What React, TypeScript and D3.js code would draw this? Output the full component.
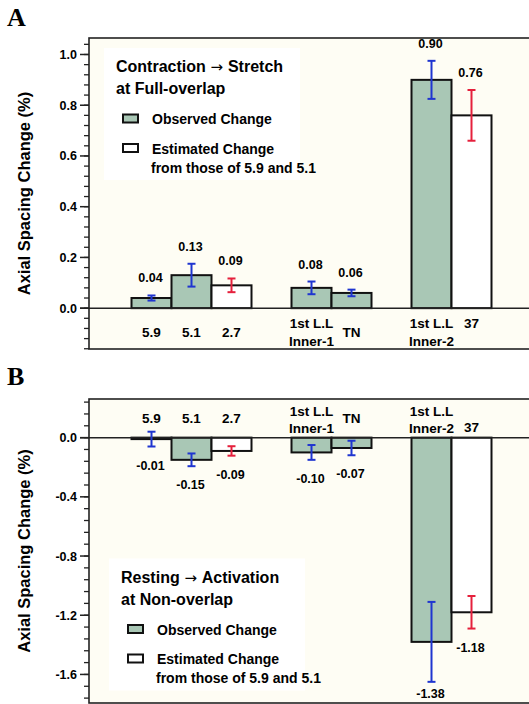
import React from 'react';
import * as d3 from 'd3';

// slot order along x; the two "gap" slots stay empty
const slots = ['5.9', '5.1', '2.7', 'gap-1', 'Inner-1', 'TN', 'gap-2', 'Inner-2', '37'];
const categories = ['5.9', '5.1', '2.7', 'Inner-1', 'TN', 'Inner-2', '37'];
const categoryLines = [['5.9'], ['5.1'], ['2.7'], ['1st L.L', 'Inner-1'], ['TN'], ['1st L.L', 'Inner-2'], ['37']];
const kinds = ['observed', 'observed', 'estimated', 'observed', 'observed', 'observed', 'estimated'];

// A: contraction -> stretch at full overlap
const stretchValues = [0.04, 0.13, 0.09, 0.08, 0.06, 0.9, 0.76];
const stretchErrors = [0.01, 0.045, 0.027, 0.025, 0.013, 0.075, 0.1];

// B: resting -> activation at non-overlap
const activationValues = [-0.01, -0.15, -0.09, -0.1, -0.07, -1.38, -1.18];
const activationErrors = [0.05, 0.043, 0.032, 0.05, 0.049, 0.27, 0.11];

const stretchMajor = [0, 0.2, 0.4, 0.6, 0.8, 1.0];
const activationMajor = [0, -0.4, -0.8, -1.2, -1.6];

const FONT = '"Liberation Sans", Arial, Helvetica, sans-serif';
const GREEN = '#a9c7b5';
const BLUE = '#1f35d0';
const RED = '#e5203c';
const BG = '#fefdf4';

const FRAME_LEFT = 89;
const FRAME_RIGHT = 540;

const x = d3.scaleBand<string>().domain(slots).range([131.5, 491.5]).padding(0);

interface PanelProps {
  letter: string;
  letterY: number;
  top: number;
  bottom: number;
  domain: [number, number];
  major: number[];
  minorStep: number;
  values: number[];
  errors: number[];
  labelsBelow: boolean; // category labels under the zero line
  title: string[];
  legend: { x: number; y: number };
}

function Panel(p: PanelProps) {
  const y = d3.scaleLinear().domain(p.domain).range([p.bottom, p.top]);
  const y0 = y(0);
  const minor = d3
    .range(Math.ceil(p.domain[0] / p.minorStep), Math.floor(p.domain[1] / p.minorStep) + 1)
    .map((k) => k * p.minorStep);
  const bw = x.bandwidth();

  return (
    <g>
      <text x={7} y={p.letterY} fontFamily='"Liberation Serif", "Times New Roman", serif' fontWeight="bold" fontSize={26}>
        {p.letter}
      </text>
      <rect x={FRAME_LEFT} y={p.top} width={FRAME_RIGHT - FRAME_LEFT} height={p.bottom - p.top} fill={BG} />
      {/* legend sits on a white patch */}
      <rect x={p.legend.x - 12} y={p.legend.y - 24} width={196} height={132} fill="#ffffff" />

      {/* y axis ticks */}
      {minor.map((v) => (
        <line key={'mi' + v} x1={FRAME_LEFT - 5} x2={FRAME_LEFT} y1={y(v)} y2={y(v)} stroke="#222" strokeWidth={1.3} />
      ))}
      {p.major.map((v) => (
        <g key={'ma' + v}>
          <line x1={FRAME_LEFT - 9} x2={FRAME_LEFT} y1={y(v)} y2={y(v)} stroke="#222" strokeWidth={1.5} />
          <text x={77} y={y(v) + 4.5} textAnchor="end" fontFamily={FONT} fontWeight="bold" fontSize={12.5}>
            {v.toFixed(1)}
          </text>
        </g>
      ))}
      <text
        transform={`translate(30,${(p.top + p.bottom) / 2}) rotate(-90)`}
        textAnchor="middle"
        fontFamily={FONT}
        fontWeight="bold"
        fontSize={16.5}
      >
        Axial Spacing Change (%)
      </text>

      {/* bars */}
      {categories.map((c, i) => {
        const v = p.values[i];
        const bx = x(c) as number;
        return (
          <rect
            key={'b' + c}
            x={bx}
            y={Math.min(y(v), y0)}
            width={bw}
            height={Math.abs(y(v) - y0)}
            fill={kinds[i] === 'observed' ? GREEN : '#ffffff'}
            stroke="#111"
            strokeWidth={2}
          />
        );
      })}

      {/* zero line and frame */}
      <line x1={FRAME_LEFT - 9} x2={FRAME_RIGHT} y1={y0} y2={y0} stroke="#222" strokeWidth={1.5} />
      <rect x={FRAME_LEFT} y={p.top} width={FRAME_RIGHT - FRAME_LEFT} height={p.bottom - p.top} fill="none" stroke="#222" strokeWidth={1.6} />

      {/* error bars */}
      {categories.map((c, i) => {
        const cx = (x(c) as number) + bw / 2;
        const hi = y(p.values[i] + p.errors[i]);
        const lo = y(p.values[i] - p.errors[i]);
        const col = kinds[i] === 'observed' ? BLUE : RED;
        return (
          <g key={'e' + c} stroke={col} strokeWidth={2}>
            <line x1={cx} x2={cx} y1={hi} y2={lo} />
            <line x1={cx - 4} x2={cx + 4} y1={hi} y2={hi} />
            <line x1={cx - 4} x2={cx + 4} y1={lo} y2={lo} />
          </g>
        );
      })}

      {/* value labels */}
      {categories.map((c, i) => {
        const cx = (x(c) as number) + bw / 2 - 1;
        const ty = p.labelsBelow
          ? y(p.values[i] + p.errors[i]) - 13
          : Math.min(y(p.values[i] - p.errors[i]) + 23, p.bottom - 5);
        return (
          <text key={'v' + c} x={cx} y={ty} textAnchor="middle" fontFamily={FONT} fontWeight="bold" fontSize={12.5}>
            {p.values[i].toFixed(2)}
          </text>
        );
      })}

      {/* category labels */}
      {categories.map((c, i) => {
        const cx = (x(c) as number) + bw / 2;
        const lines = categoryLines[i];
        const hug = i === categories.length - 1;
        let ys: number[];
        if (p.labelsBelow) {
          ys = lines.length === 2 ? [y0 + 20, y0 + 38] : [hug ? y0 + 20 : y0 + 29];
        } else {
          ys = lines.length === 2 ? [y0 - 22, y0 - 4.5] : [hug ? y0 - 6 : y0 - 15];
        }
        return lines.map((t, k) => (
          <text key={'c' + c + k} x={cx} y={ys[k]} textAnchor="middle" fontFamily={FONT} fontWeight="bold" fontSize={13.5}>
            {t}
          </text>
        ));
      })}

      {/* legend */}
      <g fontFamily={FONT} fontWeight="bold">
        <text x={p.legend.x} y={p.legend.y} fontSize={16}>
          {p.title[0]}
          <tspan fontFamily='"DejaVu Sans", sans-serif' fontWeight="normal" fontSize={15}> {'\u2192'} </tspan>
          {p.title[1]}
        </text>
        <text x={p.legend.x} y={p.legend.y + 22} fontSize={16}>
          {p.title[2]}
        </text>
        <rect x={p.legend.x + 7} y={p.legend.y + 42.5} width={15} height={8} fill={GREEN} stroke="#111" strokeWidth={2} />
        <text x={p.legend.x + 36} y={p.legend.y + 52} fontSize={14}>
          Observed Change
        </text>
        <rect x={p.legend.x + 7} y={p.legend.y + 72} width={15} height={8} fill="#ffffff" stroke="#111" strokeWidth={2} />
        <text x={p.legend.x + 36} y={p.legend.y + 81.5} fontSize={14}>
          Estimated Change
        </text>
        <text x={p.legend.x + 35} y={p.legend.y + 100.5} fontSize={14}>
          from those of 5.9 and 5.1
        </text>
      </g>
    </g>
  );
}

export default function App() {
  return (
    <svg width={529} height={704} style={{ position: 'absolute', left: 0, top: 0, background: '#ffffff' }}>
      <Panel
        letter="A"
        letterY={26}
        top={38}
        bottom={349}
        domain={[-0.161, 1.065]}
        major={stretchMajor}
        minorStep={0.04}
        values={stretchValues}
        errors={stretchErrors}
        labelsBelow={true}
        title={['Contraction', 'Stretch', 'at Full-overlap']}
        legend={{ x: 116, y: 72 }}
      />
      <Panel
        letter="B"
        letterY={385}
        top={399}
        bottom={703}
        domain={[-1.793, 0.261]}
        major={activationMajor}
        minorStep={0.08}
        values={activationValues}
        errors={activationErrors}
        labelsBelow={false}
        title={['Resting', 'Activation', 'at Non-overlap']}
        legend={{ x: 121, y: 582.5 }}
      />
    </svg>
  );
}
